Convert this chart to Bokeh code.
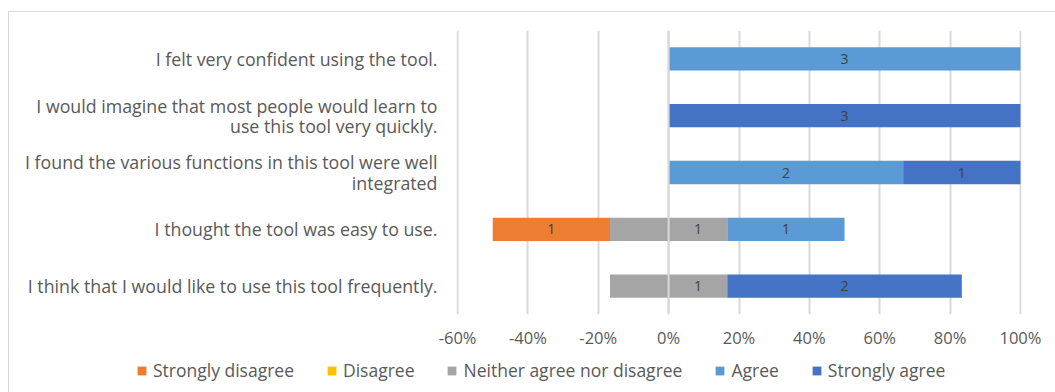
from bokeh.plotting import figure
from bokeh.layouts import column
from bokeh.models import (ColumnDataSource, FactorRange, Legend, LegendItem, Span,
                          NumeralTickFormatter, FixedTicker, Range1d)
from bokeh.embed import file_html
from bokeh.resources import INLINE
from bokeh.core.properties import value

# ---- data ----
questions = [
    "I felt very confident using the tool.",
    "I would imagine that most people would learn to\nuse this tool very quickly.",
    "I found the various functions in this tool were well\nintegrated",
    "I thought the tool was easy to use.",
    "I think that I would like to use this tool frequently.",
]
strongly_disagree = [0, 0, 0, 1, 0]
disagree = [0, 0, 0, 0, 0]
neutral = [0, 0, 0, 1, 1]
agree = [3, 0, 2, 1, 0]
strongly_agree = [0, 3, 1, 0, 2]
categories = ["Strongly disagree", "Disagree", "Neither agree nor disagree", "Agree", "Strongly agree"]
colors = ["#ED7D31", "#FFC000", "#A5A5A5", "#5B9BD5", "#4472C4"]
x_ticks = [-0.6, -0.4, -0.2, 0.0, 0.2, 0.4, 0.6, 0.8, 1.0]

FONT = "Open Sans"
TXT = "#595959"
GRID = "#D9D9D9"

p = figure(width=1046, height=339, output_backend="svg", toolbar_location=None,
           y_range=FactorRange(factors=list(reversed(questions))),
           x_range=Range1d(-0.603, 1.003),
           min_border_left=447, min_border_right=34, min_border_top=18, min_border_bottom=35)
p.y_range.factor_padding = 0
p.y_range.range_padding = 0

# segments: sd, d, neutral (left half), neutral (right half), a, sa
series = [
    ("Strongly disagree", strongly_disagree, 1.0, colors[0], True),
    ("Disagree", disagree, 1.0, colors[1], True),
    ("Neither agree nor disagree", neutral, 0.5, colors[2], False),
    ("Neither agree nor disagree", neutral, 0.5, colors[2], True),
    ("Agree", agree, 1.0, colors[3], True),
    ("Strongly agree", strongly_agree, 1.0, colors[4], True),
]

totals = [strongly_disagree[i] + disagree[i] + neutral[i] + agree[i] + strongly_agree[i]
          for i in range(len(questions))]
cursor = [-(strongly_disagree[i] + disagree[i] + neutral[i] / 2) / totals[i]
          for i in range(len(questions))]

lbl_x, lbl_y, lbl_t = [], [], []
for name, vals, frac, col, show in series:
    lefts, rights = [], []
    for i, v in enumerate(vals):
        w = v * frac / totals[i]
        lefts.append(cursor[i])
        rights.append(cursor[i] + w)
        if show and v > 0:
            lbl_x.append(cursor[i] + w / 2)
            lbl_y.append(questions[i])
            lbl_t.append(str(v))
        cursor[i] += w
    src = ColumnDataSource(dict(y=questions, left=lefts, right=rights))
    p.hbar(y="y", left="left", right="right", height=0.41, source=src,
           fill_color=col, line_color=None)

p.text(x=lbl_x, y=lbl_y, text=lbl_t, text_align="center", text_baseline="middle",
       text_font=value(FONT), text_font_size="14px", text_color="#404040")

p.add_layout(Span(location=0, dimension="height", line_color=GRID, line_width=2))

# axes / grid
p.xaxis.ticker = FixedTicker(ticks=x_ticks)
p.xaxis.formatter = NumeralTickFormatter(format="0%")
p.xaxis.axis_line_color = None
p.xaxis.major_tick_line_color = None
p.xaxis.major_tick_out = 0
p.xaxis.minor_tick_line_color = None
p.xaxis.major_label_text_color = TXT
p.xaxis.major_label_text_font = FONT
p.xaxis.major_label_text_font_size = "16.5px"
p.xaxis.major_label_standoff = 11

p.yaxis.axis_line_color = None
p.yaxis.major_tick_line_color = None
p.yaxis.major_tick_out = 0
p.yaxis.major_label_text_color = TXT
p.yaxis.major_label_text_font = FONT
p.yaxis.major_label_text_font_size = "17.8px"
p.yaxis.major_label_text_line_height = 0.84
p.yaxis.major_label_standoff = 19

p.xgrid.grid_line_color = GRID
p.xgrid.grid_line_width = 2
p.xgrid.ticker = FixedTicker(ticks=x_ticks)
p.ygrid.grid_line_color = None
p.outline_line_color = None

# legend strip below the chart (proxy swatches of zero width)
lg = figure(width=1046, height=41, output_backend="svg", toolbar_location=None,
            x_axis_type=None, y_axis_type=None,
            x_range=Range1d(0, 1), y_range=Range1d(0, 1),
            min_border_left=0, min_border_right=0, min_border_top=0, min_border_bottom=0)
if "frame_align" in lg.properties():
    lg.frame_align = False
    p.frame_align = False
lg.outline_line_color = None
lg.xgrid.grid_line_color = None
lg.ygrid.grid_line_color = None
items = []
for c, col in zip(categories, colors):
    r = lg.hbar(y=[0], left=[0], right=[0], height=0, fill_color=col, line_color=None)
    items.append(LegendItem(label=c, renderers=[r]))
legend = Legend(items=items, orientation="horizontal", location=(127, 10),
                glyph_width=11, glyph_height=11, label_standoff=6, spacing=32,
                label_text_font=FONT, label_text_font_size="17.5px", label_text_color=TXT,
                border_line_color=None, background_fill_alpha=0, padding=0, margin=0)
lg.add_layout(legend, "center")

layout = column(p, lg, margin=(11, 0, 0, 8),
                styles={"border-top": "1px solid #D9D9D9", "border-left": "1px solid #D9D9D9"})

open("out.html", "w").write(file_html(layout, INLINE))
